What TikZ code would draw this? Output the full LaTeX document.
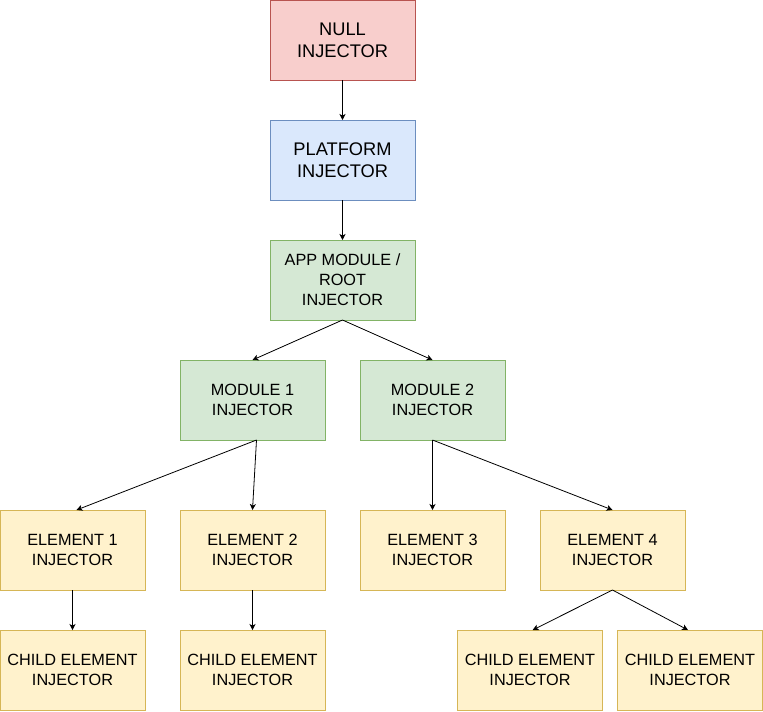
\documentclass[tikz,border=0pt]{standalone}
\usepackage{fontspec}
\setmainfont{Liberation Sans}
\usetikzlibrary{positioning}
\usetikzlibrary{arrows.meta}
\definecolor{nullfill}{HTML}{F8CECC}
\definecolor{nullline}{HTML}{B85450}
\definecolor{platfill}{HTML}{DAE8FC}
\definecolor{platline}{HTML}{6C8EBF}
\definecolor{modfill}{HTML}{D5E8D4}
\definecolor{modline}{HTML}{82B366}
\definecolor{elemfill}{HTML}{FFF2CC}
\definecolor{elemline}{HTML}{D6B656}

\begin{document}
\begin{tikzpicture}[
  x=0.75pt, y=0.75pt,
  injector/.style = {
    draw,
    rectangle,
    line width = 0.75pt,
    align = center,
    inner sep = 0pt,
    outer sep = 0pt,
    minimum width = 108.75pt,
    minimum height = 60pt,
    font = \fontsize{12.2}{15}\selectfont,
  },
  topinj/.style = {
    injector,
    font = \fontsize{13.7}{16.5}\selectfont,
  },
  nullinj/.style = {
    topinj,
    draw = nullline,
    fill = nullfill,
  },
  platinj/.style = {
    topinj,
    draw = platline,
    fill = platfill,
  },
  modinj/.style = {
    injector,
    draw = modline,
    fill = modfill,
  },
  eleminj/.style = {
    injector,
    draw = elemline,
    fill = elemfill,
  },
  >={Stealth[length=4.5pt,width=4.5pt,inset=1.2pt]},
  link/.style = {->, line width=0.6pt},
]

  \useasboundingbox (0,0) rectangle (763,-711);

  %
  \node[nullinj] (null) at (342.5,-40) {NULL\\INJECTOR};
  \node[platinj] (platform) [below=30pt of null] {PLATFORM\\INJECTOR};
  \node[modinj] (app) [below=30pt of platform] {APP MODULE /\\ROOT\\INJECTOR};

  %
  \node[modinj] (mod1) [below=30pt of app, xshift=-67.5pt] {MODULE 1\\INJECTOR};
  \node[modinj] (mod2) [right=26.25pt of mod1] {MODULE 2\\INJECTOR};

  %
  \node[eleminj] (el1) [below=52.5pt of mod1, xshift=-135pt] {ELEMENT 1\\INJECTOR};
  \node[eleminj] (el2) [right=26.25pt of el1] {ELEMENT 2\\INJECTOR};
  \node[eleminj] (el3) [right=26.25pt of el2] {ELEMENT 3\\INJECTOR};
  \node[eleminj] (el4) [right=26.25pt of el3] {ELEMENT 4\\INJECTOR};

  %
  \node[eleminj] (ch1) [below=30pt of el1] {CHILD ELEMENT\\INJECTOR};
  \node[eleminj] (ch2) [below=30pt of el2] {CHILD ELEMENT\\INJECTOR};
  \node[eleminj] (ch4) [below=30pt of el4, xshift=58.125pt] {CHILD ELEMENT\\INJECTOR};
  \node[eleminj] (ch3) [left=11.25pt of ch4] {CHILD ELEMENT\\INJECTOR};

  \path[link] (null) edge (platform);
  \path[link] (platform) edge (app);
  \path[link] (app.south) edge (mod1.north);
  \path[link] (app.south) edge (mod2.north);
  \path[link] ([xshift=3pt]mod1.south) edge ([xshift=3pt]el1.north);
  \path[link] ([xshift=3pt]mod1.south) edge (el2.north);
  \path[link] (mod2.south) edge (el3.north);
  \path[link] (mod2.south) edge (el4.north);
  \path[link] (el1) edge (ch1);
  \path[link] (el2) edge (ch2);
  \path[link] (el4.south) edge ([xshift=2pt]ch3.north);
  \path[link] (el4.south) edge ([xshift=-1.5pt]ch4.north);

\end{tikzpicture}
\end{document}
